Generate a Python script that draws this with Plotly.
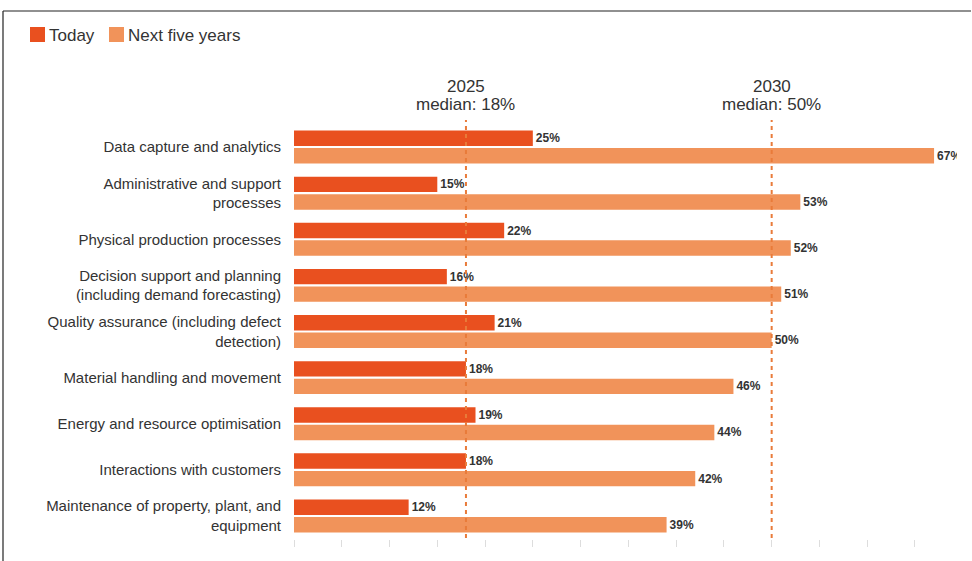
import plotly.graph_objects as go

# ---------------- data ----------------
categories = [
    "Data capture and analytics",
    "Administrative and support<br>processes",
    "Physical production processes",
    "Decision support and planning<br>(including demand forecasting)",
    "Quality assurance (including defect<br>detection)",
    "Material handling and movement",
    "Energy and resource optimisation",
    "Interactions with customers",
    "Maintenance of property, plant, and<br>equipment",
]
today = [25, 15, 22, 16, 21, 18, 19, 18, 12]
next_five_years = [67, 53, 52, 51, 50, 46, 44, 42, 39]
series_names = ["Today", "Next five years"]
median_years = ["2025", "2030"]
median_values = [18, 50]

# ---------------- style ----------------
W, H = 972, 561
L, R, T, B = 294, 15, 124, 22
PW, PH = W - L - R, H - T - B
XMAX = 69.4
COL_TODAY = "#E9501F"
COL_NEXT = "#F1935A"
COL_LINE = "#E97B3A"
TXT = "#333333"
FONT = "Liberation Sans, Arial, Helvetica, sans-serif"


def px_x(px):
    return (px - L) / PW


def px_y(py):
    return (H - B - py) / PH


fig = go.Figure()
for name, vals, col in [(series_names[0], today, COL_TODAY),
                        (series_names[1], next_five_years, COL_NEXT)]:
    fig.add_trace(go.Bar(
        y=categories, x=vals, name=name, orientation="h",
        marker=dict(color=col, line=dict(width=0)),
        text=vals, texttemplate="%{x}%", textposition="outside",
        textfont=dict(size=12, color=TXT, family=FONT, weight="bold"),
        constraintext="none", cliponaxis=True, showlegend=False,
    ))

shapes = []
annotations = []
for yr, v in zip(median_years, median_values):
    shapes.append(dict(type="line", xref="x", yref="paper", x0=v, x1=v,
                       y0=px_y(538), y1=px_y(120), layer="above",
                       line=dict(color=COL_LINE, width=2, dash="4px,4px")))
    annotations.append(dict(xref="x", yref="paper", x=v, y=px_y(87),
                            text=yr, showarrow=False, yanchor="middle",
                            font=dict(size=17, color=TXT, family=FONT)))
    annotations.append(dict(xref="x", yref="paper", x=v, y=px_y(104),
                            text=f"median: {v}%", showarrow=False, yanchor="middle",
                            font=dict(size=17, color=TXT, family=FONT)))

# manual legend
legend_items = [(series_names[0], COL_TODAY, 30), (series_names[1], COL_NEXT, 109)]
for name, col, x0 in legend_items:
    shapes.append(dict(type="rect", xref="paper", yref="paper",
                       x0=px_x(x0), x1=px_x(x0 + 15), y0=px_y(42), y1=px_y(27),
                       fillcolor=col, line=dict(width=0)))
    annotations.append(dict(xref="paper", yref="paper", x=px_x(x0 + 17), y=px_y(35),
                            text=name, showarrow=False, xanchor="left", yanchor="middle",
                            font=dict(size=17, color=TXT, family=FONT)))

# frame (top and left edges)
shapes.append(dict(type="line", xref="paper", yref="paper",
                   x0=px_x(3), x1=px_x(971), y0=px_y(11), y1=px_y(11),
                   line=dict(color="#222222", width=1.2)))
shapes.append(dict(type="line", xref="paper", yref="paper",
                   x0=px_x(3), x1=px_x(3), y0=px_y(11), y1=px_y(561),
                   line=dict(color="#222222", width=1.2)))

fig.update_layout(
    width=W, height=H,
    margin=dict(l=L, r=R, t=T, b=B, autoexpand=False),
    paper_bgcolor="white", plot_bgcolor="white",
    barmode="group", bargap=0.24, bargroupgap=0.12,
    shapes=shapes, annotations=annotations,
    font=dict(family=FONT, color=TXT),
    xaxis=dict(range=[0, XMAX], showgrid=False, zeroline=False, showline=False,
               showticklabels=False, ticks="outside", tick0=0, dtick=5,
               ticklen=7, tickcolor="#dddddd", tickwidth=1, fixedrange=True),
    yaxis=dict(categoryorder="array", categoryarray=categories, autorange="reversed",
               showgrid=False, zeroline=False, showline=False, ticks="",
               ticklabelstandoff=12,
               tickfont=dict(size=15, color=TXT, family=FONT), fixedrange=True),
)

fig.write_html("out.html",
               config={"displayModeBar": False},
               post_script="document.body.style.margin='0';document.body.style.overflow='hidden';")
